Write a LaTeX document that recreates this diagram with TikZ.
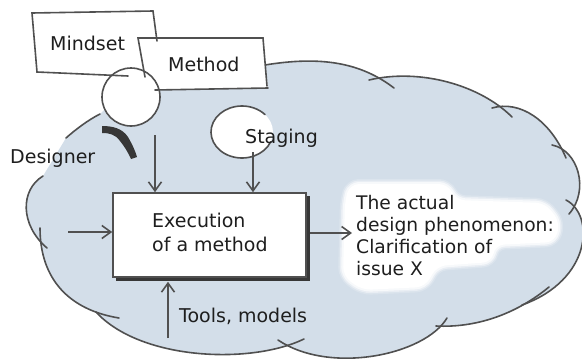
\documentclass[tikz,border=0pt]{standalone}
\usepackage{fontspec}
\setmainfont{DejaVu Sans}
\usetikzlibrary{arrows.meta}
\definecolor{cloudfill}{RGB}{211,222,233}
\definecolor{ink}{RGB}{80,80,80}
\definecolor{txt}{RGB}{30,30,30}
\definecolor{darkstroke}{RGB}{55,55,55}

\begin{document}
\begin{tikzpicture}[x=1pt,y=-1pt,
  outline/.style={draw=ink, line width=1.6pt, line cap=round},
  arr/.style={draw=ink, line width=1.6pt,
    -{Straight Barb[length=9pt,width=13pt,line width=1.6pt]}},
  lbl/.style={text=txt, font=\fontsize{19}{21.7}\selectfont,
    inner sep=0pt, anchor=base west, align=left},
]
\useasboundingbox (0,0) rectangle (582,362);

% ---- the big cloud: fill, then its scalloped outline ----
\fill[cloudfill]
     (265,65) .. controls (320,56) and (360,62) .. (394,88)
  -- (369,80) .. controls (420,68) and (480,85) .. (512,117)
  -- (492,108) .. controls (520,100) and (550,120) .. (566,158)
  -- (552,145) .. controls (578,150) and (590,190) .. (569,214)
  -- (566,200) .. controls (595,215) and (592,280) .. (522,305)
  -- (549,287) .. controls (515,315) and (475,328) .. (436,326)
  -- (447,318) .. controls (425,355) and (330,375) .. (278,340)
  -- (304,339) .. controls (250,365) and (140,360) .. (96,312)
  -- (119,318) .. controls (70,310) and (40,280) .. (40,228)
  -- (47,248) .. controls (20,225) and (20,190) .. (43,176)
  -- (66,138) .. controls (75,130) and (88,120) .. (100,114)
  -- (118,96) -- (160,86) -- cycle;

\draw[outline] (265,65) .. controls (320,56) and (360,62) .. (394,88);
\draw[outline] (369,80) .. controls (420,68) and (480,85) .. (512,117);
\draw[outline] (492,108) .. controls (520,100) and (550,120) .. (566,158);
\draw[outline] (552,145) .. controls (578,150) and (590,190) .. (569,214);
\draw[outline] (566,200) .. controls (595,215) and (592,280) .. (522,305);
\draw[outline] (549,287) .. controls (515,315) and (475,328) .. (436,326);
\draw[outline] (447,318) .. controls (425,355) and (330,375) .. (278,340);
\draw[outline] (304,339) .. controls (250,365) and (140,360) .. (96,312);
\draw[outline] (119,318) .. controls (70,310) and (40,280) .. (40,228);
\draw[outline] (47,248) .. controls (20,225) and (20,190) .. (43,176);
\draw[outline] (66,138) .. controls (75,130) and (88,120) .. (100,114);

% ---- soft white patch behind the outcome text ----
\def\patch{(345,200) -- (350,184) -- (448,184) -- (456,200) -- (545,203)
  -- (560,222) -- (555,242) -- (495,245) -- (492,262) -- (437,266)
  -- (425,287) -- (362,290) -- (343,276) -- cycle}
\foreach \w/\o in {10/0.2,7/0.4,4/0.65}
  \draw[white, line width=\w pt, opacity=\o, rounded corners=9pt, line join=round] \patch;
\fill[white, rounded corners=9pt] \patch;

% ---- mindset and method cards with the designer's head ----
\fill[white] (32,13) -- (153,11) -- (157,40) -- (145,76) -- (37,72) -- cycle;
\fill[white] (138,38) -- (263,38) -- (268,88) -- (145,90) -- cycle;
\node[circle, draw=ink, fill=white, line width=1.6pt, minimum size=58pt,
      inner sep=0pt] (head) at (131,97) {};
\draw[outline] (157,41) -- (153,11) -- (32,13) -- (37,72) -- (128,76);
\draw[outline] (145,77) -- (138,38) -- (263,38) -- (267,86);
\draw[outline] (155,90) -- (268,88);
\node[lbl] (mindset) at (50,50) {Mindset};
\node[lbl] (method) at (168,71) {Method};

% shoulder stroke
\fill[darkstroke] (102,126) .. controls (112,126) and (122,128) .. (128,137)
  .. controls (132,144) and (135,150) .. (137,157)
  -- (131,159) .. controls (128,152) and (124,146) .. (120,141)
  .. controls (115,134) and (109,133) .. (102,133) -- cycle;
\node[lbl] (designer) at (10,163) {Designer};

% ---- staging bubble ----
\fill[white] (242,132) ellipse [x radius=31, y radius=26];
\draw[outline] (242,132) ++(22:31 and 26) arc [start angle=22, end angle=318,
   x radius=31, y radius=26];
\node[lbl] (staging) at (245,143) {Staging};

% ---- execution box with its shadow ----
\fill[darkstroke] (116,196) rectangle (310,281);
\node[draw=ink, fill=white, line width=1.6pt, minimum width=193pt,
      minimum height=84pt, inner sep=0pt] (exec) at (209.5,235) {};
\node[lbl, font=\fontsize{19}{24}\selectfont]
  (exectext) at (152,251) {Execution\\of a method};

% ---- outcome text ----
\node[lbl, font=\fontsize{18.7}{21.7}\selectfont] (outcome) at (356,275)
  {The actual\\design phenomenon:\\Clarification of\\issue X};

\node[lbl] (tools) at (179,322) {Tools, models};

% ---- connectors ----
\coordinate (fromhead) at (155,135);
\coordinate (fromstage) at (253,152);
\coordinate (fromleft) at (68,232);
\coordinate (fromtools) at (168,338);
\coordinate (toresult) at (352,233);
\draw[arr] (fromhead) -- (fromhead |- exec.north);
\draw[arr] (fromstage) -- (fromstage |- exec.north);
\draw[arr] (fromleft) -- (fromleft -| exec.west);
\draw[arr] (fromtools) -- ([yshift=-4pt]fromtools |- exec.south);
\draw[arr] ([xshift=3pt]exec.east |- toresult) -- (toresult);
\end{tikzpicture}
\end{document}
